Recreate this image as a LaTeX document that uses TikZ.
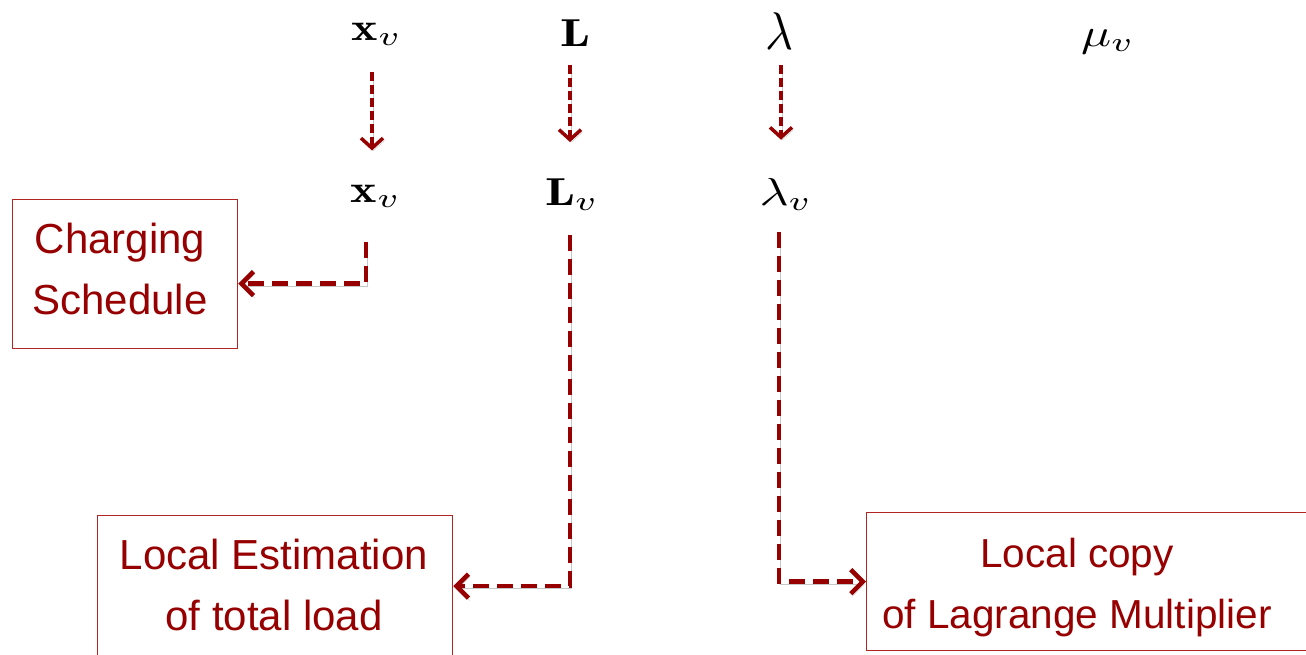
\RequirePackage{fix-cm}
\documentclass[tikz,border=0pt]{standalone}
\usepackage{fontspec}
\setsansfont{Liberation Sans}
\usepackage{graphicx}
\usetikzlibrary{arrows.meta,calc}

\definecolor{wine}{RGB}{150,0,0}
\definecolor{boxred}{RGB}{176,36,36}

% math symbols set at 10pt and enlarged (wider than tall)
\newcommand{\wmath}[1]{\scalebox{5.0}[3.9]{$#1$}}

\tikzset{
  var/.style={inner sep=0pt, anchor=base},
  lbl/.style={text=wine, align=center, inner sep=0pt,
              font=\sffamily\fontsize{42}{61}\selectfont},
  box/.style={draw=boxred, line width=1.3pt, anchor=north west, inner sep=0pt},
  shadowed/.style={preaction={draw=black, draw opacity=0.22,
                   transform canvas={shift={(1.5pt,-2.5pt)}}}},
  arrtop/.style={draw=wine, line width=3.5pt, dash pattern=on 9pt off 4pt,
                 -{Straight Barb[length=10pt,width=22pt]}, shadowed},
  arrlow/.style={draw=wine, line width=4.5pt, dash pattern=on 16pt off 8pt,
                 -{Straight Barb[length=12pt,width=24pt]}, shadowed}
}

\begin{document}
\begin{tikzpicture}[x=1pt,y=-1pt]
\useasboundingbox (0,0) rectangle (1306,654);
\clip (0,0) rectangle (1306,654);

% global variables
\node[var] (xt) at (377,40) {\wmath{\mathbf{x}_v}};
\node[var] (Lt) at (575,46) {\wmath{\mathbf{L}}};
\node[var] (lt) at (779,49) {\scalebox{4.8}[5.3]{$\lambda$}};
\node[var] (mu) at (1108,46) {\wmath{\mu_v}};

% local variables
\node[var] (xb) at (376,202) {\wmath{\mathbf{x}_v}};
\node[var] (Lb) at (572,205) {\wmath{\mathbf{L}_v}};
\node[var] (lb) at (786,205) {\wmath{\lambda_v}};

% boxes
\node[box, minimum width=225pt, minimum height=149pt] (b1) at (12,199) {};
\node[box, minimum width=355pt, minimum height=141pt] (b2) at (97,515) {};
\node[box, minimum width=460pt, minimum height=138pt] (b3) at (866,512) {};

\node[lbl] (t1) at (120,268.5) {Charging\\Schedule};
\node[lbl] (t2) at (274,585) {Local Estimation\\of total load};
\node[lbl, font=\sffamily\fontsize{40.5}{61}\selectfont] (t3) at (1077,588)
  {Local copy\\of Lagrange Multiplier};

% copies of the global variables
\draw[arrtop] ($(xt.south)+(-5,26)$) -- ($(xb.north)+(-4,-34)$);
\draw[arrtop] ($(Lt.south)+(-5,19)$) -- ($(Lb.north)+(-2,-36)$);
\draw[arrtop] ($(lt.south)+(2,16)$) -- ($(lb.north)+(-5,-38)$);

% local variables feed the boxes
\draw[arrlow] ($(xb.south)+(-10,34)$) |- ($(b1.east)+(0,9.5)$);
\draw[arrlow] ($(Lb.south)+(-2,24)$) |- (b2.east);
\draw[arrlow] ($(lb.south)+(-7,21)$) |- (b3.west);
\end{tikzpicture}
\end{document}
